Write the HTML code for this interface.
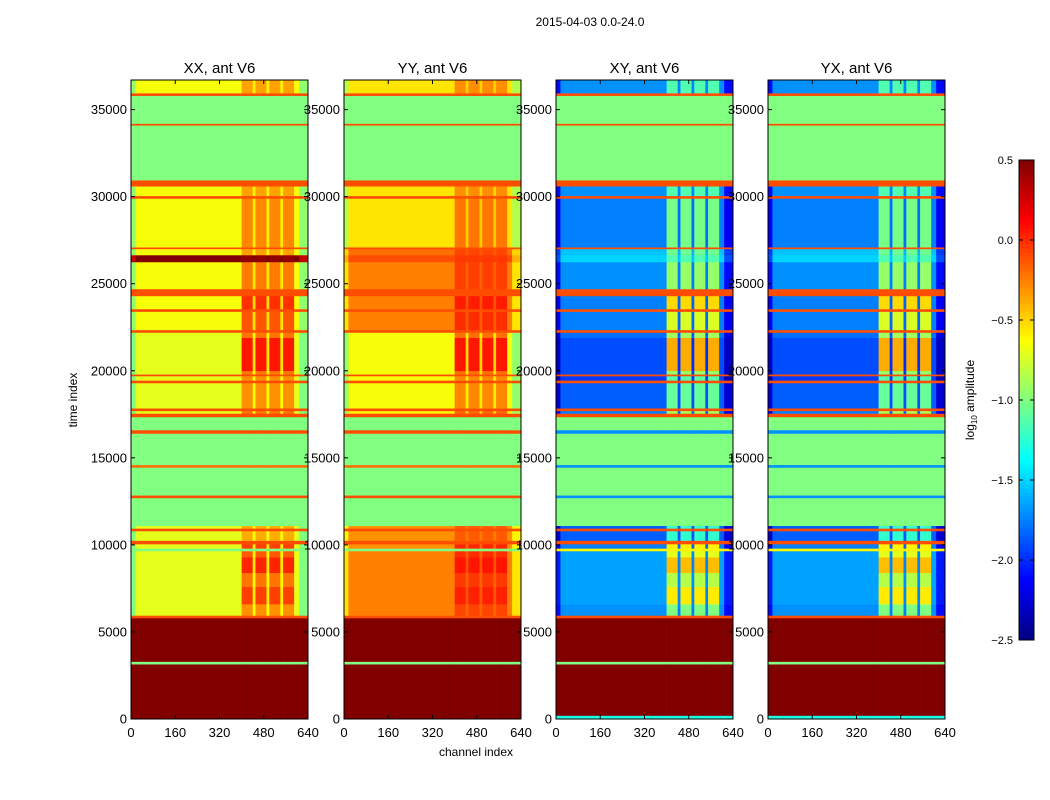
<!DOCTYPE html>
<html><head><meta charset="utf-8"><style>
body{margin:0;background:#fff;}
svg{display:block;font-family:"Liberation Sans",sans-serif;}
</style></head><body>
<svg id="fig" width="1050" height="800" viewBox="0 0 1050 800">
<text x="590" y="26" font-size="12" text-anchor="middle">2015-04-03 0.0-24.0</text>
<text x="0" y="0" font-size="12" text-anchor="middle" transform="translate(77,400) rotate(-90)">time index</text>
<text x="476" y="756" font-size="12" text-anchor="middle">channel index</text>
<g id="panels"></g>
<g id="cbar"></g>
</svg>
<script>
const panelNames = ['XX, ant V6','YY, ant V6','XY, ant V6','YX, ant V6'];
const tickTimes = [0,5000,10000,15000,20000,25000,30000,35000];
const tickChans = [0,160,320,480,640];
const cbarTicks = [0.5,0.0,-0.5,-1.0,-1.5,-2.0,-2.5];
const cbarLabels = ['0.5','0.0','\u22120.5','\u22121.0','\u22121.5','\u22122.0','\u22122.5'];
const chEdges = [0,16,400,440,450,490,500,540,550,590,608,640];
const chType = ['edge','bg','stripe','gap','stripe','gap','stripe','gap','stripe','bg','edge'];
const stripeTop = [0.1,0.1,-0.3,-0.3];
const bandStart = [0,200,3150,3300,5800,5950,6600,7600,8400,9300,9650,9800,10050,10250,10800,10950,11100,12700,12850,14450,14600,16400,16600,17350,17550,17700,17850,19300,19450,19700,19800,20000,21900,22200,22350,23400,23550,24300,24700,26250,26650,27000,27100,29900,30050,30600,30950,34100,34200,35800,35950];
const bandEnd   = [200,3150,3300,5800,5950,6600,7600,8400,9300,9650,9800,10050,10250,10800,10950,11100,12700,12850,14450,14600,16400,16600,17350,17550,17700,17850,19300,19450,19700,19800,20000,21900,22200,22350,23400,23550,24300,24700,26250,26650,27000,27100,29900,30050,30600,30950,34100,34200,35800,35950,36700];
const bandXX = [.6,.6,-1,.6,-.1,-.7,-.7,-.7,-.7,-.7,-1,-.7,-.1,-.7,-.1,-.7,-1,-.1,-1,-.2,-1,-.1,-1,-.1,-.7,-.1,-.7,-.1,-.7,-.1,-.7,-.7,-.7,-.1,-.65,-.1,-.65,-.1,-.65,.6,-.65,-.1,-.65,-.1,-.65,-.1,-1,-.1,-1,-.1,-.65];
const bandYY = [.6,.6,-1,.6,-.1,-.25,-.25,-.25,-.25,-.25,-1,-.3,-.1,-.3,-.1,-.3,-1,-.1,-1,-.2,-1,-.1,-1,-.1,-.6,-.1,-.65,-.1,-.65,-.1,-.65,-.65,-.65,-.1,-.25,-.1,-.25,-.1,-.25,-.1,-.2,-.1,-.55,-.1,-.55,-.1,-1,-.1,-1,-.1,-.55];
const bandXY = [-1.3,.6,-1,.6,-.1,-1.7,-1.65,-1.65,-1.65,-1.65,-.6,-1.75,-.1,-1.85,-.1,-1.85,-1,-1.7,-1,-1.7,-1,-1.7,-1,-.1,-1.75,-.1,-1.85,-.1,-1.95,-.1,-1.9,-1.9,-1.8,-.1,-1.75,-.1,-1.75,-.1,-1.7,-1.5,-1.55,-.1,-1.75,-.1,-1.7,-.1,-1,-.1,-1,-.1,-1.7];
const bandYX = bandXY.slice();
const bandBoost = [0,0,0,0,0,.5,.8,.6,.9,.7,0,.8,0,.4,0,.4,0,0,0,0,0,0,0,0,.6,0,.5,0,.5,0,.6,.95,.6,0,.7,0,.85,0,.55,.3,.4,0,.5,0,.4,0,0,0,0,0,.4];

const panelX = [131,344,556,768], PW = 177, PY0 = 80, PY1 = 719, TMAX = 36700;
const NS = 'http://www.w3.org/2000/svg';
function yS(t){return PY1 - t/TMAX*(PY1-PY0);}
function xS(p,c){return panelX[p] + c/640*PW;}
function cl(v){return Math.max(0,Math.min(1,v));}
function jet(v){const t=cl((v+2.5)/3);
 const r=cl(1.5-Math.abs(4*t-3)),g=cl(1.5-Math.abs(4*t-2)),b=cl(1.5-Math.abs(4*t-1));
 return 'rgb('+Math.round(r*255)+','+Math.round(g*255)+','+Math.round(b*255)+')';}
function mk(tag,attrs,parent){const e=document.createElementNS(NS,tag);for(const k in attrs)e.setAttribute(k,attrs[k]);parent.appendChild(e);return e;}
const bandSets=[bandXX,bandYY,bandXY,bandYX];
const G=document.getElementById('panels');
for(let p=0;p<4;p++){
 const g=mk('g',{},G);
 
 
 for(let i=0;i<bandStart.length;i++){
  const base=bandSets[p][i], b=bandBoost[i];
  for(let j=0;j<chType.length;j++){
   let v=base;
   const ty=chType[j];
   if(b>0){
    if(ty==='stripe') v=base+b*(stripeTop[p]-base);
    else if(ty==='gap') v=base+(p>=2?-0.1:0.15)*b;
    else if(ty==='edge') v=base-(p>=2?0.4:0.3);
   }
   const x0=xS(p,chEdges[j]),x1=xS(p,chEdges[j+1]),y0=yS(bandEnd[i]),y1=yS(bandStart[i]);
   const r=mk('rect',{x:x0,y:y0,width:x1-x0+0.3,height:y1-y0+0.3,fill:jet(v)},g);
   
   
  }
 }
 const fr=mk('rect',{x:panelX[p],y:PY0,width:PW,height:PY1-PY0,fill:'none',stroke:'#000','stroke-width':1},g);
 
 
 const tt=mk('text',{x:panelX[p]+PW/2,y:73,'font-size':15,'text-anchor':'middle'},g);
 tt.textContent=panelNames[p];
 
 
 tickTimes.forEach(t=>{const y=yS(t);
  mk('line',{x1:panelX[p],x2:panelX[p]+4,y1:y,y2:y,stroke:'#000'},g);
  mk('line',{x1:panelX[p]+PW,x2:panelX[p]+PW-4,y1:y,y2:y,stroke:'#000'},g);
  const tx=mk('text',{x:panelX[p]-4,y:y+4.5,'font-size':13,'text-anchor':'end'},g);
  tx.textContent=t;
  
  
 });
 tickChans.forEach(c=>{const x=xS(p,c);
  mk('line',{x1:x,x2:x,y1:PY1,y2:PY1-4,stroke:'#000'},g);
  mk('line',{x1:x,x2:x,y1:PY0,y2:PY0+4,stroke:'#000'},g);
  const tx=mk('text',{x:x,y:737,'font-size':13,'text-anchor':'middle'},g);
  tx.textContent=c;
  
  
 });
}
const C=document.getElementById('cbar');


const CB0=160,CB1=640,CX=1019,CW=15;
function cy(v){return CB1-(v+2.5)/3*(CB1-CB0);}
for(let k=0;k<120;k++){const v0=-2.5+k*3/120,v1=v0+3/120;
 const r=mk('rect',{x:CX,y:cy(v1),width:CW,height:cy(v0)-cy(v1)+0.5,fill:jet((v0+v1)/2)},C);
 
 
}
mk('rect',{x:CX,y:CB0,width:CW,height:CB1-CB0,fill:'none',stroke:'#000'},C);
cbarTicks.forEach((v,i)=>{const y=cy(v);
 mk('line',{x1:CX,x2:CX+4,y1:y,y2:y,stroke:'#000'},C);
 mk('line',{x1:CX+CW,x2:CX+CW-4,y1:y,y2:y,stroke:'#000'},C);
 const t=mk('text',{x:1013,y:y+4,'font-size':11,'text-anchor':'end'},C);
 t.textContent=cbarLabels[i];
 
 
});
const lab=mk('text',{x:0,y:0,'font-size':12,'text-anchor':'middle',transform:'translate(974,400) rotate(-90)'},C);
lab.innerHTML='log<tspan font-size="8" dy="3">10</tspan><tspan dy="-3"> amplitude</tspan>';


</script>
</body></html>
